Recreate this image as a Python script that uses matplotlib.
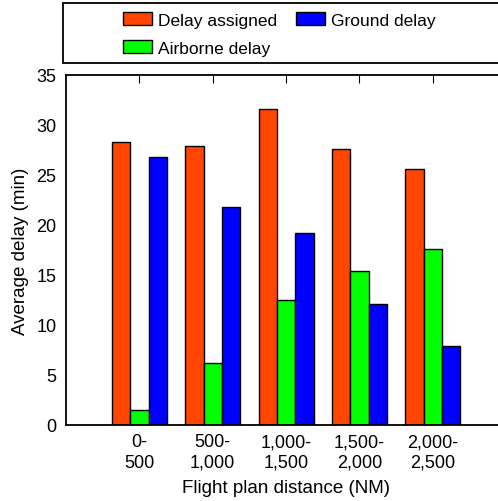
import numpy as np
import matplotlib
matplotlib.use("Agg")
import matplotlib.pyplot as plt
from matplotlib.patches import Rectangle

plt.rcParams['font.family'] = ['Liberation Sans', 'DejaVu Sans']

categories = ["0-\n500", "500-\n1,000", "1,000-\n1,500", "1,500-\n2,000", "2,000-\n2,500"]
delay_assigned = [28.3, 27.9, 31.6, 27.6, 25.6]
airborne_delay = [1.5, 6.2, 12.5, 15.4, 17.6]
ground_delay = [26.8, 21.8, 19.2, 12.1, 7.9]

fig = plt.figure(figsize=(4.98, 5.02), dpi=100)
ax = fig.add_axes([66/498, 76/502, 440/498, 350/502])

x = np.arange(1, len(categories) + 1)
w = 0.25
b1 = ax.bar(x - w, delay_assigned, w, color='#FF4500', edgecolor='black', linewidth=1, label='Delay assigned')
b2 = ax.bar(x, airborne_delay, w, color='#00FF00', edgecolor='black', linewidth=1, label='Airborne delay')
b3 = ax.bar(x + w, ground_delay, w, color='#0000FF', edgecolor='black', linewidth=1, label='Ground delay')

ax.set_xlim(0, 6)
ax.set_ylim(0, 35)
ax.set_xticks(x)
ax.set_xticklabels(categories, fontsize=13, linespacing=1.25)
ax.set_yticks(np.arange(0, 36, 5))
ax.tick_params(axis='y', labelsize=13, left=False, right=True, direction='in', length=6, pad=7)
ax.tick_params(axis='x', bottom=False, top=True, direction='in', length=6, pad=6)
for s in ax.spines.values():
    s.set_linewidth(1.3)
ax.set_xlabel("Flight plan distance (NM)", fontsize=13.5, labelpad=6)
ax.set_ylabel("Average delay (min)", fontsize=13.5, labelpad=5)

# legend box at the top
fig.patches.append(Rectangle((63/498, 1 - 64/502), 445/498, 60/502, transform=fig.transFigure,
                             facecolor='white', edgecolor='black', linewidth=1.3))
fig.legend(handles=[b1, b2, b3], labels=['Delay assigned', 'Airborne delay', 'Ground delay'],
           ncol=2, loc='upper left', bbox_to_anchor=(123/498, 1 - 13/502), frameon=False,
           fontsize=12.5, handlelength=1.65, handleheight=0.8, columnspacing=1.1,
           labelspacing=0.7, handletextpad=0.35, borderpad=0, borderaxespad=0)

fig.savefig("out.png", dpi=100)
